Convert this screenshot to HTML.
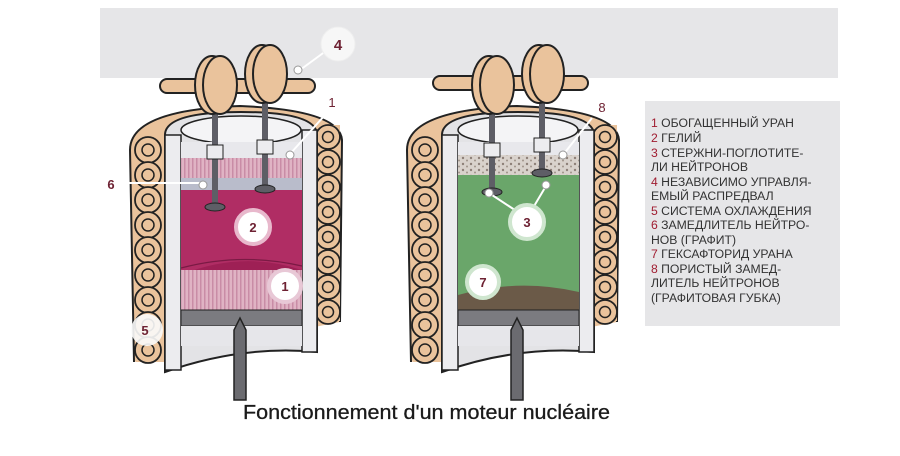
<!DOCTYPE html>
<html><head><meta charset="utf-8"><style>
html,body{margin:0;padding:0;background:#fff;width:900px;height:456px;overflow:hidden}
svg{display:block}
</style></head><body>
<svg width="900" height="456" viewBox="0 0 900 456" xmlns="http://www.w3.org/2000/svg" font-family="Liberation Sans, DejaVu Sans, sans-serif">
<defs>
<pattern id="str" width="4" height="10" patternUnits="userSpaceOnUse"><rect width="4" height="10" fill="#e0b3c4"/><rect width="1.5" height="10" fill="#c98ca6"/></pattern>
<pattern id="por" width="8" height="6" patternUnits="userSpaceOnUse"><rect width="8" height="6" fill="#d9d2cc"/><circle cx="2" cy="2" r="1.2" fill="#8e8078"/><circle cx="6" cy="4.5" r="1" fill="#a0938a"/></pattern>
<g id="coils">
 <path d="M134 362 L130 150 Q130 110 240 106 Q340 110 342 140 L340 322" fill="#eac39c" stroke="#222" stroke-width="2"/>
 <rect x="136" y="140" width="34" height="222" fill="#eac39c"/>
 <rect x="312" y="125" width="28" height="196" fill="#eac39c"/>
 <g fill="#eac39c" stroke="#222" stroke-width="1.8">
  <circle cx="148" cy="150" r="13"/><circle cx="148" cy="175" r="13"/><circle cx="148" cy="200" r="13"/><circle cx="148" cy="225" r="13"/><circle cx="148" cy="250" r="13"/><circle cx="148" cy="275" r="13"/><circle cx="148" cy="300" r="13"/><circle cx="148" cy="325" r="13"/><circle cx="148" cy="350" r="13"/>
  <circle cx="328" cy="137" r="12"/><circle cx="328" cy="162" r="12"/><circle cx="328" cy="187" r="12"/><circle cx="328" cy="212" r="12"/><circle cx="328" cy="237" r="12"/><circle cx="328" cy="262" r="12"/><circle cx="328" cy="287" r="12"/><circle cx="328" cy="312" r="12"/>
 </g>
 <g fill="none" stroke="#222" stroke-width="1.5">
  <circle cx="148" cy="150" r="6"/><circle cx="148" cy="175" r="6"/><circle cx="148" cy="200" r="6"/><circle cx="148" cy="225" r="6"/><circle cx="148" cy="250" r="6"/><circle cx="148" cy="275" r="6"/><circle cx="148" cy="300" r="6"/><circle cx="148" cy="325" r="6"/><circle cx="148" cy="350" r="6"/>
  <circle cx="328" cy="137" r="5.5"/><circle cx="328" cy="162" r="5.5"/><circle cx="328" cy="187" r="5.5"/><circle cx="328" cy="212" r="5.5"/><circle cx="328" cy="237" r="5.5"/><circle cx="328" cy="262" r="5.5"/><circle cx="328" cy="287" r="5.5"/><circle cx="328" cy="312" r="5.5"/>
 </g>
 <path d="M165 135 Q165 112 241 112 Q317 112 317 135 L317 352 Q241 345 165 372 Z" fill="#e3e3e6" stroke="#222" stroke-width="2"/>
 <ellipse cx="241" cy="130" rx="60" ry="14" fill="#f4f4f6" stroke="#222" stroke-width="1.5"/>
 <rect x="165" y="135" width="16" height="235" fill="#ececef" stroke="#222" stroke-width="1.5"/>
 <rect x="302" y="130" width="15" height="222" fill="#ececef" stroke="#222" stroke-width="1.5"/>
</g>
</defs>

<rect x="100" y="8" width="738" height="70" fill="#e6e6e8"/>

<!-- LEFT REACTOR -->
<use href="#coils"/>
<rect x="181" y="142" width="121" height="18" fill="#e8e8ec"/>
<rect x="181" y="158" width="121" height="20" fill="url(#str)"/>
<rect x="181" y="178" width="121" height="12" fill="#b9bccb"/>
<rect x="181" y="190" width="121" height="80" fill="#b02d64"/>
<path d="M181 275 Q241 250 302 270 L302 310 L181 310 Z" fill="#9e2055"/>
<rect x="181" y="270" width="121" height="40" fill="url(#str)"/>
<path d="M181 268 Q241 252 302 266" fill="none" stroke="#7a1a44" stroke-width="1.2"/>
<rect x="181" y="310" width="121" height="16" fill="#7b7b80" stroke="#222"/>
<rect x="181" y="326" width="121" height="20" fill="#e6e6ea"/>
<path d="M234 400 L234 330 L240 318 L246 330 L246 400 Z" fill="#6b6b70" stroke="#222" stroke-width="1.5"/>
<rect x="212" y="110" width="6" height="95" fill="#5e5e66"/>
<rect x="262" y="90" width="6" height="98" fill="#5e5e66"/>
<ellipse cx="215" cy="207" rx="10" ry="4" fill="#5e5e66" stroke="#222"/>
<ellipse cx="265" cy="189" rx="10" ry="4" fill="#5e5e66" stroke="#222"/>
<rect x="207" y="145" width="16" height="14" fill="#ececef" stroke="#222" stroke-width="1"/>
<rect x="257" y="140" width="16" height="14" fill="#ececef" stroke="#222" stroke-width="1"/>
<g fill="#eac39c" stroke="#222" stroke-width="2">
 <rect x="160" y="79" width="155" height="14" rx="7"/>
 <ellipse cx="212" cy="85" rx="17" ry="29"/><ellipse cx="220" cy="85" rx="17" ry="29"/>
 <ellipse cx="262" cy="74" rx="17" ry="29"/><ellipse cx="270" cy="74" rx="17" ry="29"/>
</g>
<!-- labels left -->
<g stroke="#fff" stroke-width="2" fill="none"><path d="M121 183 L203 183"/><path d="M290 154 L325 115"/><path d="M300 70 L330 48"/></g>
<circle cx="338" cy="44" r="17" fill="#f7f7f7" stroke="#eee"/><text x="338" y="50" font-size="15" text-anchor="middle" fill="#6e2233" font-weight="bold">4</text>
<circle cx="298" cy="70" r="4" fill="#fff" stroke="#999"/>
<circle cx="290" cy="155" r="4" fill="#fff" stroke="#999"/>
<circle cx="203" cy="185" r="4" fill="#fff" stroke="#999"/>
<text x="332" y="107" font-size="13" fill="#6e2233" text-anchor="middle">1</text>
<text x="111" y="189" font-size="13" fill="#6e2233" text-anchor="middle" font-weight="bold">6</text>
<circle cx="253" cy="227" r="17" fill="#fff" stroke="#e8b8cc" stroke-width="4"/><text x="253" y="232" font-size="13" text-anchor="middle" fill="#6e2233" font-weight="bold">2</text>
<circle cx="285" cy="286" r="16" fill="#fff" stroke="#e8c8d6" stroke-width="4"/><text x="285" y="291" font-size="13" text-anchor="middle" fill="#6e2233" font-weight="bold">1</text>
<circle cx="147" cy="330" r="16" fill="#fbfbfb" opacity="0.9"/><text x="145" y="335" font-size="13" text-anchor="middle" fill="#6e2233" font-weight="bold">5</text>

<!-- RIGHT REACTOR -->
<g transform="translate(277,0)">
<use href="#coils"/>
<rect x="181" y="142" width="121" height="18" fill="#e8e8ec"/>
<rect x="181" y="155" width="121" height="20" fill="url(#por)"/>
<rect x="181" y="175" width="121" height="135" fill="#6aa66a"/>
<path d="M181 295 Q241 278 302 292 L302 310 L181 310 Z" fill="#6b5a48"/>
<rect x="181" y="310" width="121" height="16" fill="#7b7b80" stroke="#222"/>
<rect x="181" y="326" width="121" height="20" fill="#e6e6ea"/>
<path d="M234 400 L234 330 L240 318 L246 330 L246 400 Z" fill="#6b6b70" stroke="#222" stroke-width="1.5"/>
<rect x="212" y="110" width="6" height="80" fill="#5e5e66"/>
<rect x="262" y="90" width="6" height="82" fill="#5e5e66"/>
<ellipse cx="215" cy="192" rx="10" ry="4" fill="#5e5e66" stroke="#222"/>
<ellipse cx="265" cy="173" rx="10" ry="4" fill="#5e5e66" stroke="#222"/>
<rect x="207" y="143" width="16" height="14" fill="#ececef" stroke="#222" stroke-width="1"/>
<rect x="257" y="138" width="16" height="14" fill="#ececef" stroke="#222" stroke-width="1"/>
<g fill="#eac39c" stroke="#222" stroke-width="2">
 <rect x="156" y="76" width="155" height="14" rx="7"/>
 <ellipse cx="212" cy="85" rx="17" ry="29"/><ellipse cx="220" cy="85" rx="17" ry="29"/>
 <ellipse cx="262" cy="74" rx="17" ry="29"/><ellipse cx="270" cy="74" rx="17" ry="29"/>
</g>
</g>
<g stroke="#fff" stroke-width="2" fill="none"><path d="M489 193 L527 218 L546 186"/><path d="M563 155 L592 118"/></g>
<circle cx="489" cy="193" r="4" fill="#fff" stroke="#999"/>
<circle cx="546" cy="185" r="4" fill="#fff" stroke="#999"/>
<circle cx="563" cy="155" r="4" fill="#fff" stroke="#999"/>
<text x="602" y="112" font-size="13" fill="#6e2233" text-anchor="middle">8</text>
<circle cx="527" cy="222" r="17" fill="#fff" stroke="#cfe6cf" stroke-width="4"/><text x="527" y="227" font-size="13" text-anchor="middle" fill="#6e2233" font-weight="bold">3</text>
<circle cx="483" cy="282" r="16" fill="#fff" stroke="#cfe6cf" stroke-width="4"/><text x="483" y="287" font-size="13" text-anchor="middle" fill="#6e2233" font-weight="bold">7</text>

<!-- legend -->
<rect x="645" y="101" width="195" height="225" fill="#e6e6e8"/>
<g font-size="12.2" fill="#333">
<text x="651" y="127"><tspan fill="#a01c30">1</tspan> ОБОГАЩЕННЫЙ УРАН</text>
<text x="651" y="142"><tspan fill="#a01c30">2</tspan> ГЕЛИЙ</text>
<text x="651" y="157"><tspan fill="#a01c30">3</tspan> СТЕРЖНИ-ПОГЛОТИТЕ-</text>
<text x="651" y="171">ЛИ НЕЙТРОНОВ</text>
<text x="651" y="186"><tspan fill="#a01c30">4</tspan> НЕЗАВИСИМО УПРАВЛЯ-</text>
<text x="651" y="200">ЕМЫЙ РАСПРЕДВАЛ</text>
<text x="651" y="215"><tspan fill="#a01c30">5</tspan> СИСТЕМА ОХЛАЖДЕНИЯ</text>
<text x="651" y="229"><tspan fill="#a01c30">6</tspan> ЗАМЕДЛИТЕЛЬ НЕЙТРО-</text>
<text x="651" y="244">НОВ (ГРАФИТ)</text>
<text x="651" y="258"><tspan fill="#a01c30">7</tspan> ГЕКСАФТОРИД УРАНА</text>
<text x="651" y="273"><tspan fill="#a01c30">8</tspan> ПОРИСТЫЙ ЗАМЕД-</text>
<text x="651" y="287">ЛИТЕЛЬ НЕЙТРОНОВ</text>
<text x="651" y="302">(ГРАФИТОВАЯ ГУБКА)</text>
</g>

<text x="243" y="419" font-size="20" fill="#1a1a1a" textLength="367" lengthAdjust="spacingAndGlyphs" stroke="#1a1a1a" stroke-width="0.3">Fonctionnement d'un moteur nucléaire</text>
</svg>
</body></html>
